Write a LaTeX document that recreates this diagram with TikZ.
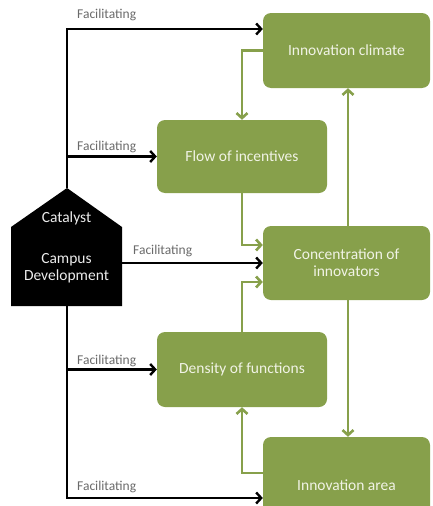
\documentclass[tikz,border=0pt]{standalone}
\usepackage{fontspec}
\setmainfont{Carlito}
\usetikzlibrary{arrows.meta}

\definecolor{leafgreen}{HTML}{87A04B}
\definecolor{paletext}{HTML}{F1F3E6}
\definecolor{labelgrey}{HTML}{6A6A6A}

\begin{document}
\begin{tikzpicture}[
            x = 1pt, y = -1pt, % work in pixels, top down
            > = {Straight Barb[length=5pt,width=11pt]}, % arrow head style
            line join = miter
        ]

        \tikzstyle{block}=[
            rectangle,
            rounded corners = 8pt,
            fill = leafgreen,
            text = paletext,
            inner sep = 0pt,
            font = \fontsize{15.5}{17}\selectfont,
            align = center
        ]
        \tikzstyle{facil}=[
            text = labelgrey,
            font = \fontsize{13.5}{15}\selectfont,
            inner sep = 0pt
        ]
        \tikzstyle{push}=[->, line width = 2.4pt, black]
        \tikzstyle{feed}=[->, line width = 2.6pt, leafgreen]

        \useasboundingbox (0,0) rectangle (432,506);
        \clip (0,0) rectangle (432,506);

        % the catalyst
        \fill[black] (11,227) -- (67,188) -- (122,227) -- (122,306) -- (11,306) -- cycle;
        \coordinate (apex) at (67,188);
        \coordinate (base) at (67,306);
        \node[text = white!92!black, font = \fontsize{15.5}{17}\selectfont] (cat) at (66.5,218) {Catalyst};
        \node[text = white!92!black, font = \fontsize{15.5}{17}\selectfont, align = center,
              minimum width = 111pt, inner sep = 0pt] (campus) at (66.5,268) {Campus\\Development};

        % the factors
        \node[block, minimum width = 167pt, minimum height = 75pt] (climate) at (346.5,50.5) {Innovation climate};
        \node[block, minimum width = 170pt, minimum height = 73pt] (incent) at (242,156.5) {Flow of incentives};
        \node[block, minimum width = 167pt, minimum height = 74pt] (conc) at (346.5,263) {Concentration of\\innovators};
        \node[block, minimum width = 170pt, minimum height = 75pt] (dens) at (242,369.5) {Density of functions};
        \node[block, minimum width = 167pt, minimum height = 96pt] (area) at (346.5,485) {Innovation area};

        % facilitating lines
        \draw[push] (apex) |- ([yshift=21.5pt]climate.west);
        \draw[push] (base) |- ([yshift=-13pt]area.west);
        \draw[push] (incent.west -| apex) -- (incent.west);
        \draw[push] (campus.east |- conc.west) -- (conc.west);
        \draw[push] (dens.west -| base) -- (dens.west);

        \node[facil, anchor = west] at (77,15) {Facilitating};
        \node[facil, anchor = west] at (77,147) {Facilitating};
        \node[facil, anchor = west] at (133,251) {Facilitating};
        \node[facil, anchor = west] at (77,361) {Facilitating};
        \node[facil, anchor = west] at (77,487) {Facilitating};

        % feedback between the factors
        \draw[feed] (climate.west) -| (incent.north);
        \draw[feed] (incent.south) |- ([yshift=18pt]conc.west);
        \draw[feed] (dens.north) |- ([yshift=-19pt]conc.west);
        \draw[feed] ([xshift=1.5pt]conc.north) -- ([xshift=1.5pt]climate.south);
        \draw[feed] ([xshift=1.5pt]conc.south) -- ([xshift=1.5pt]area.north);
        \draw[feed] ([yshift=12pt]area.west) -| (dens.south);

  \end{tikzpicture}
\end{document}
